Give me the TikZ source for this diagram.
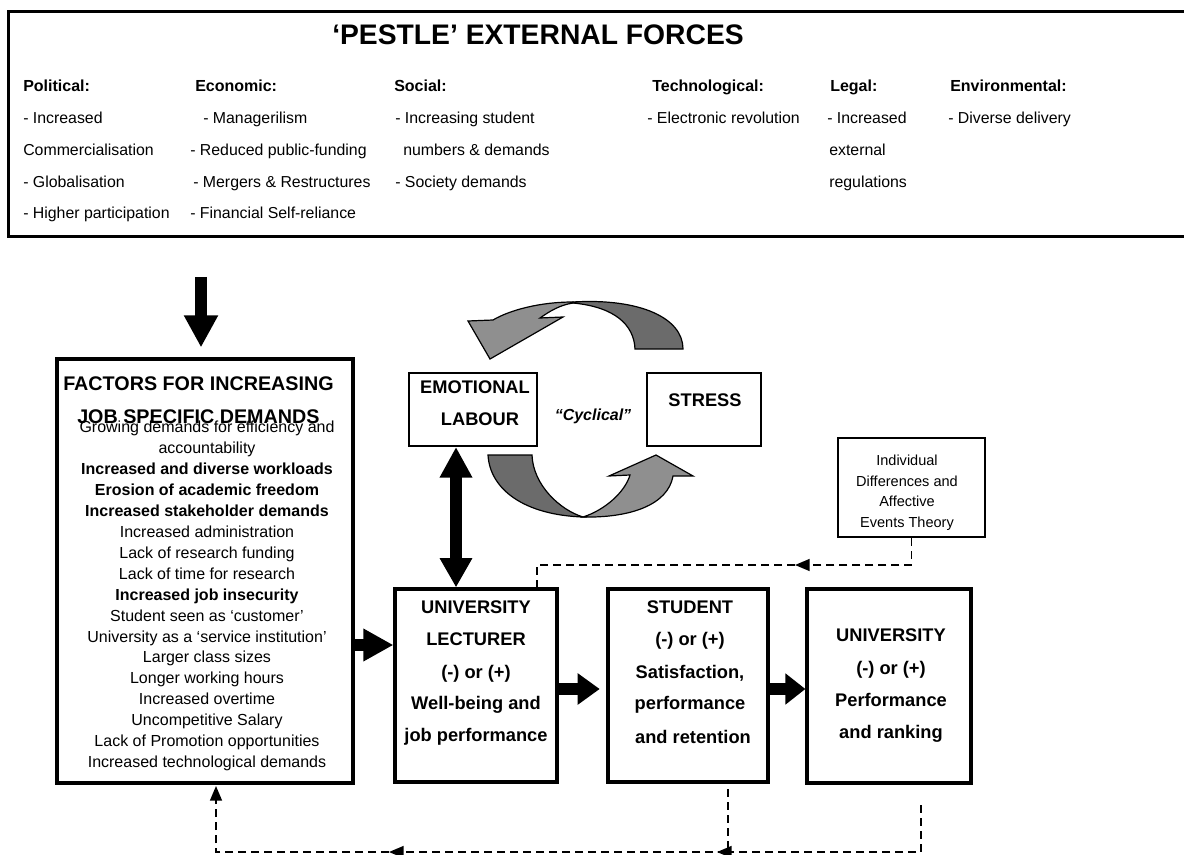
\documentclass[tikz,border=0pt]{standalone}
\usepackage{fontspec}
\setmainfont{Liberation Sans}
\usetikzlibrary{arrows.meta,fit,calc}
\newcommand\myfs[1]{\fontsize{#1}{#1}\selectfont}
\begin{document}
\begin{tikzpicture}[x=0.75pt,y=-0.75pt,
  bigbox/.style={draw, line width=2.4pt, inner sep=0pt},
  thinbox/.style={draw, line width=1.5pt, inner sep=0pt},
  lbl/.style={inner sep=0pt, anchor=base},
  body/.style={inner sep=0pt, anchor=base west, font=\myfs{11.9}},
  head/.style={inner sep=0pt, anchor=base west, font=\bfseries\myfs{12}},
  lst/.style={lbl, font=\myfs{12}},
  lstb/.style={lbl, font=\bfseries\myfs{12}},
  btxt/.style={lbl, font=\bfseries\myfs{13.7}},
  fat/.style={line width=8.6pt},
  dsh/.style={line width=1.1pt, dash pattern=on 6pt off 3.75pt},
  dtip/.style={-{Triangle[length=11pt,width=9pt]}},
  darkpart/.style={fill=black!58, draw=black, line width=0.9pt, line join=miter},
  lightpart/.style={fill=black!44, draw=black, line width=0.9pt, line join=miter}]
\useasboundingbox (0,0) rectangle (1184,855);

% ---------- PESTLE box ----------
\draw[line width=2.25pt] (1184,12) -- (8,12) -- (8,237) -- (1184,237);
\node[lbl, font=\bfseries\myfs{21.2}] (title) at (538,45) {‘PESTLE’ EXTERNAL FORCES};

\node[head] (hP) at (23,92) {Political:};
\node[head] (hE) at (195,92) {Economic:};
\node[head] (hS) at (394,92) {Social:};
\node[head] (hT) at (652,92) {Technological:};
\node[head] (hL) at (830,92) {Legal:};
\node[head] (hV) at (950,92) {Environmental:};

\node[body] (p1) at (23,124) {- Increased};
\node[body] (p2) at (23,156) {Commercialisation};
\node[body] (p3) at (23,188) {- Globalisation};
\node[body] (p4) at (23,219) {- Higher participation};

\node[body] (e1) at (203,124) {- Managerilism};
\node[body] (e2) at (190,156) {- Reduced public-funding};
\node[body] (e3) at (193,188) {- Mergers \& Restructures};
\node[body] (e4) at (190,219) {- Financial Self-reliance};

\node[body] (s1t) at (395,124) {- Increasing student};
\node[body] (s2t) at (403,156) {numbers \& demands};
\node[body] (s3t) at (395,188) {- Society demands};

\node[body] (t1) at (647,124) {- Electronic revolution};

\node[body] (g1) at (827,124) {- Increased};
\node[body] (g2) at (829,156) {external};
\node[body] (g3) at (829,188) {regulations};

\node[body] (v1) at (948,124) {- Diverse delivery};

% ---------- boxes ----------
\node[bigbox, fit={(57,359) (353,783)}] (fac) {};
\node[bigbox, fit={(395,589) (557,782)}] (lec) {};
\node[bigbox, fit={(608,589) (768,782)}] (stu) {};
\node[bigbox, fit={(807,589) (971,783)}] (uni) {};
\node[thinbox, fit={(409,373) (537,446)}] (emo) {};
\node[thinbox, fit={(647,373) (761,446)}] (str) {};
\node[thinbox, line width=1.7pt, fit={(838,438) (985,537)}] (ind) {};

% ---------- factors text ----------
\node[inner sep=0pt, anchor=base west, font=\bfseries\myfs{14.8}] (f1) at (63,390) {FACTORS FOR INCREASING};
\node[inner sep=0pt, anchor=base west, font=\bfseries\myfs{14.8}] (f2) at (77,423) {JOB SPECIFIC DEMANDS};

\node[lst]  (l0)  at (207,432.5) {Growing demands for efficiency and};
\node[lst]  (l1)  at (207,453.45) {accountability};
\node[lstb] (l2)  at (207,474.4) {Increased and diverse workloads};
\node[lstb] (l3)  at (207,495.35) {Erosion of academic freedom};
\node[lstb] (l4)  at (207,516.3) {Increased stakeholder demands};
\node[lst]  (l5)  at (207,537.25) {Increased administration};
\node[lst]  (l6)  at (207,558.2) {Lack of research funding};
\node[lst]  (l7)  at (207,579.15) {Lack of time for research};
\node[lstb] (l8)  at (207,600.1) {Increased job insecurity};
\node[lst]  (l9)  at (207,621.05) {Student seen as ‘customer’};
\node[lst]  (l10) at (207,642.0) {University as a ‘service institution’};
\node[lst]  (l11) at (207,662.95) {Larger class sizes};
\node[lst]  (l12) at (207,683.9) {Longer working hours};
\node[lst]  (l13) at (207,704.85) {Increased overtime};
\node[lst]  (l14) at (207,725.8) {Uncompetitive Salary};
\node[lst]  (l15) at (207,746.75) {Lack of Promotion opportunities};
\node[lst]  (l16) at (207,767.7) {Increased technological demands};

% ---------- bottom box texts ----------
\node[btxt] (a1) at (476,613.6) {UNIVERSITY};
\node[btxt] (a2) at (476,645.6) {LECTURER};
\node[btxt] (a3) at (476,678.6) {(-) or (+)};
\node[btxt] (a4) at (476,709.6) {Well-being and};
\node[btxt] (a5) at (476,741.6) {job performance};

\node[btxt] (b1) at (690,613.6) {STUDENT};
\node[btxt] (b2) at (690,645.6) {(-) or (+)};
\node[btxt] (b3) at (690,678.6) {Satisfaction,};
\node[btxt] (b4) at (690,709.6) {performance};
\node[btxt] (b5) at (693,743) {and retention};

\node[btxt] (c1) at (891,641.6) {UNIVERSITY};
\node[btxt] (c2) at (891,674.6) {(-) or (+)};
\node[btxt] (c3) at (891,706.6) {Performance};
\node[btxt] (c4) at (891,738.6) {and ranking};

\node[btxt] (emo1) at (475,393) {EMOTIONAL};
\node[btxt] (emo2) at (480,425) {LABOUR};
\node[btxt] (str1) at (705,406.7) {STRESS};
\node[lbl, font=\bfseries\itshape\myfs{12}] (cyc) at (593,420) {“Cyclical”};

\node[lbl, font=\myfs{10.9}] (i1) at (907,465) {Individual};
\node[lbl, font=\myfs{10.9}] (i2) at (907,486) {Differences and};
\node[lbl, font=\myfs{10.9}] (i3) at (907,506.7) {Affective};
\node[lbl, font=\myfs{10.9}] (i4) at (907,527.7) {Events Theory};

% ---------- cyclical curved arrows ----------
\draw[darkpart] (573,302) .. controls (640,298) and (683,318) .. (683,349)
  -- (635,349) .. controls (634,325) and (615,307) .. (573,303) -- cycle;
\draw[lightpart] (573,302) .. controls (540,302) and (510,310) .. (493,320)
  -- (468,321) -- (490,359) -- (563,317) -- (540,318)
  .. controls (550,311) and (560,305) .. (573,303) -- cycle;

\draw[darkpart] (488,455) .. controls (490,490) and (525,515) .. (583,517)
  .. controls (560,510) and (533,485) .. (532,455) -- cycle;
\draw[lightpart] (583,517) .. controls (630,518) and (668,505) .. (673,476)
  -- (693,476) -- (656,455) -- (609,476) -- (630,475)
  .. controls (625,492) and (605,510) .. (583,517) -- cycle;

% ---------- fat arrows ----------
\coordinate (dtop) at (201,277);
\draw[fat, -{Triangle[length=24pt,width=24pt]}, shorten >=7.5pt] (dtop) -- (dtop |- fac.north);

\coordinate (yA) at (0,645);
\draw[fat, -{Triangle[length=22.5pt,width=23pt]}] (fac.east |- yA) -- (lec.west |- yA);

\coordinate (yB) at (0,689);
\draw[fat, -{Triangle[length=16.5pt,width=22.5pt]}, shorten >=5pt] (lec.east |- yB) -- (stu.west |- yB);
\draw[fat, -{Triangle[length=15pt,width=22.5pt]}] (stu.east |- yB) -- (uni.west |- yB);

\coordinate (xB) at (456,0);
\draw[fat, {Triangle[length=23pt,width=23pt]}-{Triangle[length=22pt,width=23pt]}] (emo.south -| xB) -- (lec.north -| xB);

% ---------- dashed feedback ----------
\coordinate (m1) at (795,565);
\coordinate (lectop) at (537,589);
\draw[dsh, dtip] (ind.south) |- (m1);
\draw[dsh] (m1) -| (lectop);

\coordinate (u1) at (921,805);
\coordinate (m2) at (717,852);
\draw[dsh, dtip] (u1) |- (m2);

\coordinate (s1) at (728,789);
\coordinate (m3) at (389,852);
\coordinate (facin) at (216,786);
\draw[dsh, dtip] (s1) |- (m3);
\draw[dsh, dtip] (m3) -| (facin);
\end{tikzpicture}
\end{document}
